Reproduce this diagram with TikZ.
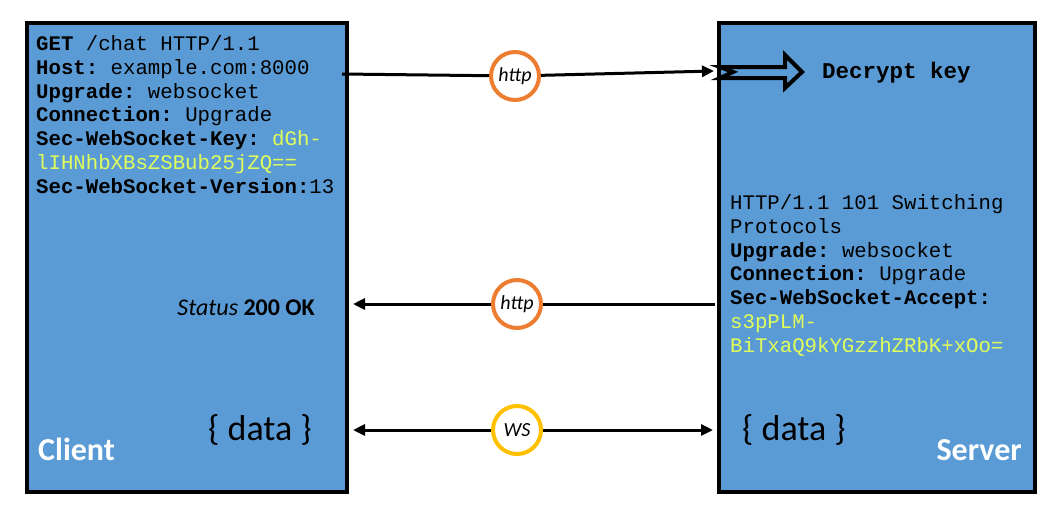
\documentclass[tikz,border=0pt]{standalone}
\usepackage{fontspec}
\setmonofont{Liberation Mono}
\setsansfont{Carlito}
\usetikzlibrary{arrows.meta}
\definecolor{boxblue}{RGB}{91,155,213}
\definecolor{keyyellow}{RGB}{225,255,90}
\definecolor{httporange}{RGB}{237,125,49}
\definecolor{wsyellow}{RGB}{255,192,0}

\begin{document}
\begin{tikzpicture}[x=1pt,y=-1pt,
  box/.style={draw,line width=4pt,fill=boxblue,inner sep=0,anchor=north west},
  mono/.style={font=\ttfamily\fontsize{20.7}{23.67}\selectfont,align=left,anchor=base west,inner sep=0},
  link/.style={line width=3pt},
  tip/.style={line width=3pt,-{Triangle[length=12pt,width=11pt]}},
  ring/.style={circle,draw=#1,line width=4pt,fill=white,minimum size=48pt,inner sep=0,font=\sffamily\itshape\fontsize{20}{24}\selectfont},
  label/.style={inner sep=0,font=\sffamily\fontsize{#1}{#1}\selectfont}]
\useasboundingbox (0,0) rectangle (1064,515);

\node[box,minimum width=320,minimum height=469] (client) at (25,21) {};
\node[box,minimum width=316,minimum height=469] (server) at (717,21) {};

% base of a multi-line node is its last line
\node[mono] (request) at (36,193) {\textbf{GET} /chat HTTP/1.1\\
  \textbf{Host:} example.com:8000\\
  \textbf{Upgrade:} websocket\\
  \textbf{Connection:} Upgrade\\
  \textbf{Sec-WebSocket-Key:} \textcolor{keyyellow}{dGh-}\\
  \textcolor{keyyellow}{lIHNhbXBsZSBub25jZQ==}\\
  \textbf{Sec-WebSocket-Version:}13};

\node[mono] (response) at (730,352) {HTTP/1.1 101 Switching\\
  Protocols\\
  \textbf{Upgrade:} websocket\\
  \textbf{Connection:} Upgrade\\
  \textbf{Sec-WebSocket-Accept:}\\
  \textcolor{keyyellow}{s3pPLM-}\\
  \textcolor{keyyellow}{BiTxaQ9kYGzzhZRbK+xOo=}};

% hollow arrow into the server
\draw[line width=4pt,fill=boxblue,line join=miter] (720,67) -- (785,67) -- (785,55)
  -- (802,72) -- (785,88) -- (785,78) -- (720,78) -- (733,72) -- cycle;
\node[inner sep=0,anchor=base west,font=\ttfamily\bfseries\fontsize{22.5}{27}\selectfont] (decrypt) at (822,78) {Decrypt key};

\node[label=24,anchor=base east] (status) at (315,315) {\textit{Status} \textbf{200 OK}};
\node[label=36,anchor=base east] (cdata) at (312,440) {\{ data \}};
\node[label=36,anchor=base west] (sdata) at (742,440) {\{ data \}};
\node[label=32,anchor=base west,text=white] (clientname) at (38,460) {\bfseries Client};
\node[label=32,anchor=base east,text=white] (servername) at (1022,460) {\bfseries Server};

\coordinate (c1) at (342,74);
\coordinate (s1) at (714,71);
\coordinate (s2) at (715,304);
\coordinate (c2) at (353,304);
\coordinate (c3) at (353,430);
\coordinate (s3) at (713,430);

\node[ring=httporange] (http1) at (515,76) {http};
\node[ring=httporange] (http2) at (517,304) {http};
\node[ring=wsyellow] (ws) at (517,430) {WS};

\draw[link] (c1) -- (http1);
\draw[tip] (http1) -- (s1);
\draw[link] (s2) -- (http2);
\draw[tip] (http2) -- (c2);
\draw[tip] (ws) -- (c3);
\draw[tip] (ws) -- (s3);
\end{tikzpicture}
\end{document}
